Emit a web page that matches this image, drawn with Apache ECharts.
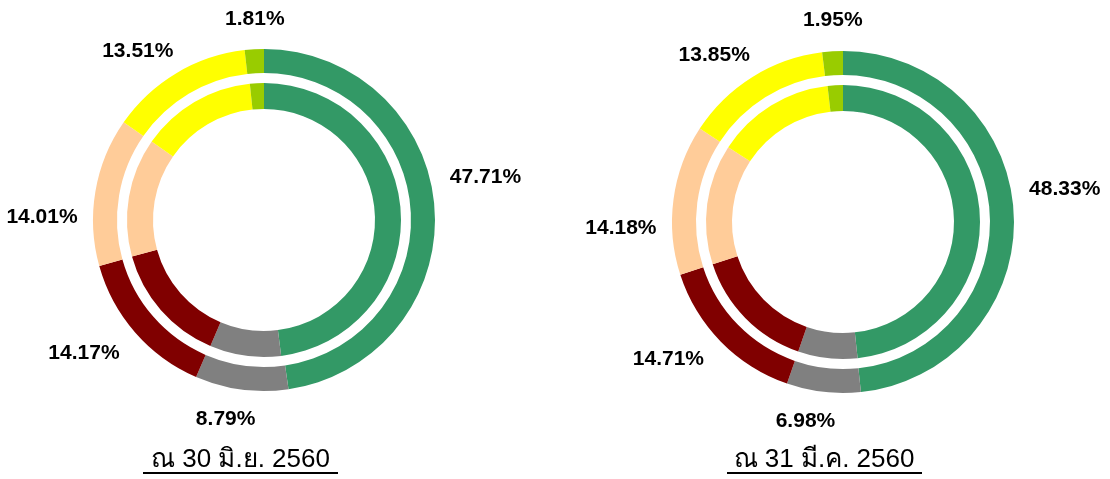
<!DOCTYPE html>
<html>
<head>
<meta charset="utf-8">
<script src="https://cdn.jsdelivr.net/npm/echarts@6/dist/echarts.min.js"></script>
<style>
html,body{margin:0;padding:0;background:#fff;}
#c{width:1110px;height:479px;}
</style>
</head>
<body>
<div id="c"></div>
<script>
// ---- data ----
const categories = ['A', 'B', 'C', 'D', 'E', 'F'];
const colors = ['#339966', '#808080', '#800000', '#FFCC99', '#FFFF00', '#99CC00'];

// 30 Jun 2560 (left)
const juneOuter = [47.71, 8.79, 14.17, 14.01, 13.51, 1.81];
const juneInner = [48.0, 8.4, 14.3, 14.0, 13.65, 1.65];
// 31 Mar 2560 (right)
const marOuter = [48.33, 6.98, 14.71, 14.18, 13.85, 1.95];
const marInner = [48.3, 7.0, 14.7, 14.2, 14.0, 1.8];

const titles = ['ณ 30 มิ.ย. 2560', 'ณ 31 มี.ค. 2560'];

// ---- styling / label nudges (px) ----
const nudgeLeft = [[7, -27], [-10, -14], [-18, -8], [-10, 33], [-16, 16], [3, 14]];
const nudgeRight = [[7, -22], [-13, -14], [-21, -13], [-9, 35], [-15, 16], [3, 13]];

function ring(values, center, radius) {
  return {
    type: 'pie',
    center: center,
    radius: radius,
    startAngle: 90,
    clockwise: true,
    silent: true,
    label: { show: false },
    labelLine: { show: false },
    emphasis: { disabled: true },
    data: values.map((v, i) => ({ name: categories[i], value: v, itemStyle: { color: colors[i] } }))
  };
}

function labelRing(values, center, nudge) {
  return {
    type: 'pie',
    center: center,
    radius: [202, 222],
    startAngle: 90,
    clockwise: true,
    silent: true,
    z: 5,
    itemStyle: { color: 'rgba(0,0,0,0)' },
    emphasis: { disabled: true },
    labelLine: { show: false },
    label: {
      show: true,
      position: 'inside',
      formatter: p => p.value.toFixed(2) + '%',
      color: '#000',
      fontFamily: '"Liberation Sans", Arial, sans-serif',
      fontWeight: 'bold',
      fontSize: 21
    },
    labelLayout: p => ({ dx: nudge[p.dataIndex][0], dy: nudge[p.dataIndex][1] }),
    data: values.map((v, i) => ({ name: categories[i], value: v }))
  };
}

const cL = [264, 220];
const cR = [843, 222];
const rOuter = [147, 171];
const rInner = [111, 137];

const titleStyle = {
  color: '#000',
  fontFamily: '"Liberation Sans", Arial, "Noto Sans", sans-serif',
  fontWeight: 'normal',
  fontSize: 26
};

const chart = echarts.init(document.getElementById('c'), null, { renderer: 'canvas' });
chart.setOption({
  backgroundColor: '#fff',
  animation: false,
  title: [
    { text: titles[0], left: 240.5, top: 447, textAlign: 'center', padding: 0, textStyle: titleStyle },
    { text: titles[1], left: 824, top: 447, textAlign: 'center', padding: 0, textStyle: titleStyle }
  ],
  graphic: [
    { type: 'rect', shape: { x: 143, y: 472, width: 195, height: 2 }, style: { fill: '#000' }, silent: true },
    { type: 'rect', shape: { x: 727, y: 472, width: 195, height: 2 }, style: { fill: '#000' }, silent: true }
  ],
  series: [
    ring(juneOuter, cL, rOuter),
    ring(juneInner, cL, rInner),
    labelRing(juneOuter, cL, nudgeLeft),
    ring(marOuter, cR, rOuter),
    ring(marInner, cR, rInner),
    labelRing(marOuter, cR, nudgeRight)
  ]
});
</script>
</body>
</html>
